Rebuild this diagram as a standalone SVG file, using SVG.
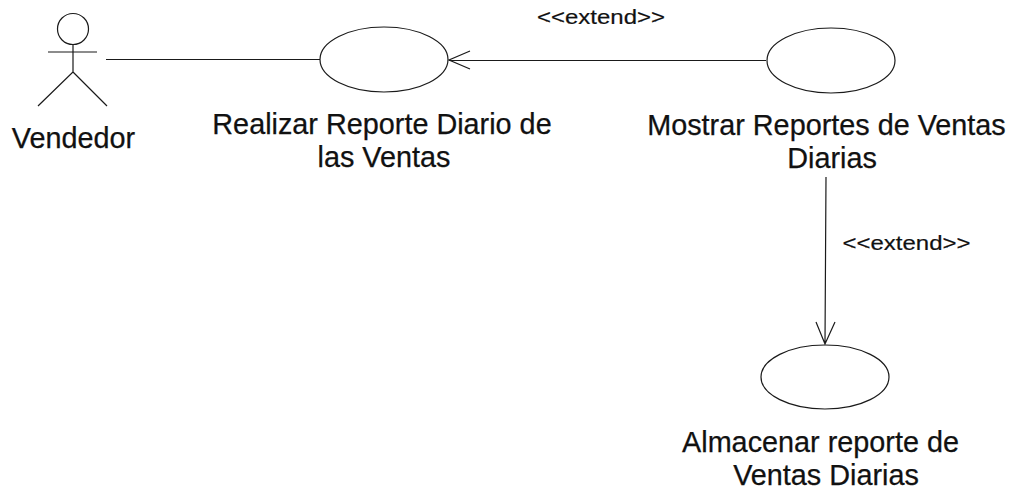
<svg xmlns="http://www.w3.org/2000/svg" width="1014" height="491" viewBox="0 0 1014 491">
<style>
.s{fill:none;stroke:#1a1a1a;stroke-width:1.2}
.l{font-family:"Liberation Sans",Arial,sans-serif;font-size:28.8px;fill:#111;stroke:#111;stroke-width:.25;text-anchor:middle}
.e{font-family:"Liberation Sans",Arial,sans-serif;font-size:20px;fill:#111;stroke:#111;stroke-width:.2;text-anchor:middle}
</style>
<rect width="1014" height="491" fill="#fff"/>
<g id="connectors">
<path class="s" d="M106 59.5H320"/>
<path class="s" d="M766 60.5H449M470 51L449 60L470 69"/>
<path class="s" d="M826 177L825 344M816 322L825 344L835 322"/>
</g>
<g id="actor-vendedor">
<circle class="s" cx="73" cy="29" r="15.5"/>
<path class="s" d="M48 52H97M73 45V72L38 106M73 72L107 106"/>
<text class="l" x="73.5" y="148">Vendedor</text>
</g>
<g id="uc-realizar">
<ellipse class="s" cx="384" cy="59.5" rx="64" ry="32.5"/>
<text class="l" x="382" y="133.5">Realizar Reporte Diario de</text>
<text class="l" x="384" y="167">las Ventas</text>
</g>
<g id="uc-mostrar">
<ellipse class="s" cx="831" cy="60.5" rx="64" ry="32.5"/>
<text class="l" x="826.5" y="135">Mostrar Reportes de Ventas</text>
<text class="l" x="832" y="168">Diarias</text>
</g>
<g id="uc-almacenar">
<ellipse class="s" cx="825" cy="377" rx="64" ry="32"/>
<text class="l" x="820.5" y="451.5">Almacenar reporte de</text>
<text class="l" x="826" y="485">Ventas Diarias</text>
</g>
<g id="labels">
<text class="e" x="601" y="24" textLength="128" lengthAdjust="spacingAndGlyphs">&lt;&lt;extend&gt;&gt;</text>
<text class="e" x="906.5" y="250" textLength="128" lengthAdjust="spacingAndGlyphs">&lt;&lt;extend&gt;&gt;</text>
</g>
</svg>
